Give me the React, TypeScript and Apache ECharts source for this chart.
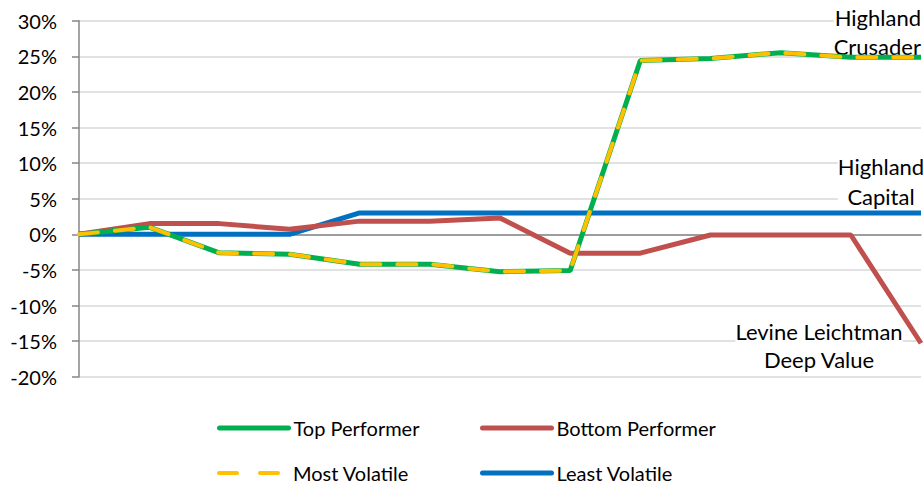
import React, { useEffect, useRef } from "react";
import * as echarts from "echarts";

const categories = ["1", "2", "3", "4", "5", "6", "7", "8", "9", "10", "11", "12", "13"];
const topPerformer = [0, 1.0, -2.6, -2.8, -4.2, -4.2, -5.25, -5.1, 24.4, 24.7, 25.5, 24.85, 24.85];
const bottomPerformer = [0, 1.5, 1.5, 0.7, 1.85, 1.85, 2.3, -2.65, -2.65, -0.1, -0.1, -0.1, -15.3];
const mostVolatile = [0, 1.0, -2.6, -2.8, -4.2, -4.2, -5.25, -5.1, 24.4, 24.7, 25.5, 24.85, 24.85];
const leastVolatile = [0, 0, 0, 0, 3.0, 3.0, 3.0, 3.0, 3.0, 3.0, 3.0, 3.0, 3.0];
const yTicks = { min: -20, max: 30, interval: 5 };
const annotations = [
  { text: "Highland\nCrusader", anchor: "right", lineHeight: 29 },
  { text: "Highland\nCapital", anchor: "center", lineHeight: 30 },
  { text: "Levine Leichtman\nDeep Value", anchor: "center", lineHeight: 28 },
];

const FONT = "Lato";
const GREEN = "#00B050";
const RED = "#C0504D";
const YELLOW = "#FFC000";
const BLUE = "#0070C0";

export default function App() {
  const ref = useRef<HTMLDivElement>(null);
  useEffect(() => {
    document.body.style.margin = "0";
    const chart = echarts.init(ref.current!, null, { renderer: "svg" });
    const textStyle = { fontFamily: FONT, fontSize: 20, color: "#000" };
    const mkLegend = (name: string, left: number, top: number, lineStyle: any) => ({
      left,
      top,
      padding: 0,
      itemWidth: 69,
      itemHeight: 14,
      textStyle,
      itemStyle: { color: "transparent", borderWidth: 0, opacity: 0 },
      lineStyle,
      data: [name],
    });
    const annPos = [
      { x: 921, y: 31.5 },
      { x: 881, y: 181 },
      { x: 819, y: 345 },
    ];
    chart.setOption({
      animation: false,
      grid: { left: 79, right: 3, top: 20.7, bottom: 107.3 },
      xAxis: {
        type: "category",
        data: categories,
        boundaryGap: false,
        axisLine: { onZero: true, lineStyle: { color: "#868686", width: 1.5 } },
        axisTick: { show: false },
        axisLabel: { show: false },
        splitLine: { show: false },
      },
      yAxis: {
        type: "value",
        min: yTicks.min,
        max: yTicks.max,
        interval: yTicks.interval,
        axisLine: { show: true, lineStyle: { color: "#868686", width: 1.5 } },
        axisTick: { show: true, length: 7, lineStyle: { color: "#868686", width: 1.5 } },
        axisLabel: { formatter: "{value}%", margin: 22, ...textStyle },
        splitLine: { lineStyle: { color: "#D9D9D9", width: 1.5 } },
      },
      legend: [
        mkLegend("Top Performer", 217, 418, { width: 5, cap: "round" }),
        mkLegend("Bottom Performer", 480, 418, { width: 5, cap: "round" }),
        mkLegend("Most Volatile", 217, 463, { width: 4, type: [18, 23], cap: "round" }),
        mkLegend("Least Volatile", 480, 463, { width: 5, cap: "round" }),
      ],
      series: [
        {
          name: "Least Volatile",
          type: "line",
          data: leastVolatile,
          showSymbol: false,
          symbol: "none",
          lineStyle: { color: BLUE, width: 5 },
          itemStyle: { color: BLUE },
          z: 3,
        },
        {
          name: "Bottom Performer",
          type: "line",
          data: bottomPerformer,
          showSymbol: false,
          symbol: "none",
          lineStyle: { color: RED, width: 5 },
          itemStyle: { color: RED },
          z: 4,
        },
        {
          name: "Top Performer",
          type: "line",
          data: topPerformer,
          showSymbol: false,
          symbol: "none",
          lineStyle: { color: GREEN, width: 5 },
          itemStyle: { color: GREEN },
          z: 5,
        },
        {
          name: "Most Volatile",
          type: "line",
          data: mostVolatile,
          showSymbol: false,
          symbol: "none",
          lineStyle: { color: YELLOW, width: 4, type: [19, 17], cap: "round" },
          itemStyle: { color: YELLOW },
          z: 6,
        },
      ],
      graphic: annotations.map((a, i) => ({
        type: "text",
        x: annPos[i].x,
        y: annPos[i].y,
        z: 1,
        style: {
          text: a.text,
          align: a.anchor,
          verticalAlign: "middle",
          lineHeight: a.lineHeight,
          font: `22px ${FONT}`,
          fill: "#000",
          backgroundColor: "#fff",
          padding: [0, 0],
        },
      })),
    });
    return () => chart.dispose();
  }, []);
  return <div ref={ref} style={{ width: 924, height: 484 }} />;
}
